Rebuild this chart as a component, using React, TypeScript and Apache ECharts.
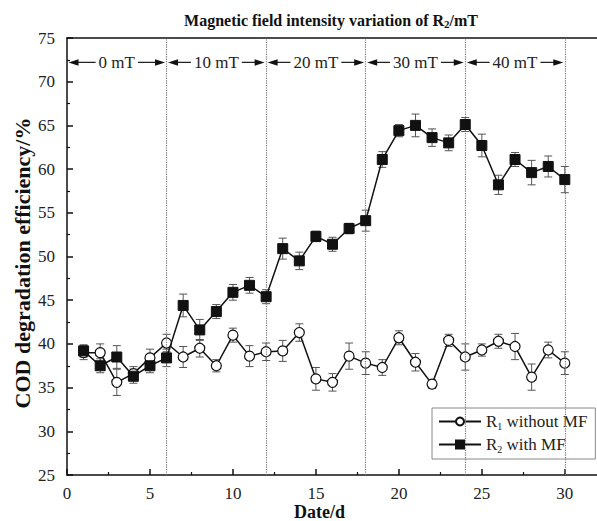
import { useEffect, useRef } from "react";
import * as echarts from "echarts";

const days = [1, 2, 3, 4, 5, 6, 7, 8, 9, 10, 11, 12, 13, 14, 15, 16, 17, 18, 19, 20, 21, 22, 23, 24, 25, 26, 27, 28, 29, 30];
const r1Values = [39.0, 39.0, 35.6, 36.6, 38.4, 40.1, 38.5, 39.5, 37.5, 41.0, 38.6, 39.1, 39.2, 41.3, 36.0, 35.6, 38.6, 37.8, 37.3, 40.7, 37.9, 35.4, 40.4, 38.5, 39.3, 40.3, 39.7, 36.2, 39.3, 37.8];
const r1Errors = [0.8, 1.0, 1.5, 0.8, 1.0, 1.0, 1.2, 1.0, 0.7, 0.8, 1.2, 1.0, 1.2, 1.0, 1.3, 1.0, 1.5, 1.3, 0.9, 0.8, 1.0, 0.5, 0.7, 1.5, 0.7, 0.8, 1.5, 1.5, 0.9, 1.3];
const r2Values = [39.2, 37.5, 38.5, 36.3, 37.5, 38.4, 44.4, 41.6, 43.7, 45.9, 46.7, 45.4, 50.9, 49.5, 52.3, 51.4, 53.2, 54.1, 61.1, 64.4, 65.0, 63.6, 63.0, 65.1, 62.7, 58.2, 61.1, 59.6, 60.3, 58.8];
const r2Errors = [0.7, 0.8, 1.3, 0.8, 0.8, 1.0, 1.3, 1.2, 0.8, 0.9, 0.9, 0.8, 1.2, 1.0, 0.6, 0.8, 0.6, 1.2, 0.9, 0.7, 1.3, 1.0, 0.9, 0.8, 1.3, 1.1, 0.8, 1.4, 1.2, 1.5];
const phaseBounds = [0, 6, 12, 18, 24, 30];
const phaseLabels = ["0 mT", "10 mT", "20 mT", "30 mT", "40 mT"];
const phaseY = 72.2;
const seriesNames = ["R1 without MF", "R2 with MF"];
const yAxisTitle = "COD degradation efficiency/%";
const xAxisTitle = "Date/d";

const FONT = "Liberation Serif";

function errorSeries(id: string, values: number[], errors: number[]) {
  return {
    type: "custom",
    id,
    silent: true,
    z: 1,
    data: days.map((d, i) => [d, values[i] - errors[i], values[i] + errors[i]]),
    encode: { x: 0, y: [1, 2] },
    renderItem: (params: any, api: any) => {
      const x = api.value(0);
      const lo = api.coord([x, api.value(1)]);
      const hi = api.coord([x, api.value(2)]);
      const hw = 4;
      const st = { stroke: "#555", lineWidth: 1 };
      return {
        type: "group",
        children: [
          { type: "line", shape: { x1: lo[0], y1: lo[1], x2: hi[0], y2: hi[1] }, style: st },
          { type: "line", shape: { x1: lo[0] - hw, y1: lo[1], x2: lo[0] + hw, y2: lo[1] }, style: st },
          { type: "line", shape: { x1: hi[0] - hw, y1: hi[1], x2: hi[0] + hw, y2: hi[1] }, style: st },
        ],
      };
    },
  };
}

export default function App() {
  const ref = useRef<HTMLDivElement>(null);
  useEffect(() => {
    if (!ref.current) return;
    const chart = echarts.init(ref.current, null, { renderer: "svg" });
    const option: any = {
      animation: false,
      backgroundColor: "#fff",
      textStyle: { fontFamily: FONT },
      graphic: [
        {
          type: "text",
          x: 331,
          y: 20,
          style: {
            text: "{a|Magnetic field intensity variation of R}{s|2}{a|/mT}",
            align: "center",
            verticalAlign: "middle",
            rich: {
              a: { fontFamily: FONT, fontSize: 16, fontWeight: "bold", fill: "#111", lineHeight: 18 },
              s: { fontFamily: FONT, fontSize: 11, fontWeight: "bold", fill: "#111", verticalAlign: "bottom", lineHeight: 11 },
            },
          },
        },
        {
          type: "text",
          x: 22,
          y: 263,
          rotation: Math.PI / 2,
          style: {
            text: yAxisTitle,
            fontFamily: FONT,
            fontSize: 22,
            fontWeight: "bold",
            fill: "#111",
            align: "center",
            verticalAlign: "middle",
          },
        },
      ],
      grid: { left: 67, top: 38, width: 531, height: 437, outerBoundsMode: "none", containLabel: false },
      legend: {
        data: seriesNames,
        orient: "vertical",
        left: 432,
        top: 408,
        backgroundColor: "#fff",
        borderColor: "#888",
        borderWidth: 1,
        borderRadius: 0,
        padding: [5, 8, 5, 6],
        itemGap: 5,
        itemWidth: 42,
        itemHeight: 10,
        formatter: (name: string) =>
          name === seriesNames[0] ? "{a|R}{s|1}{a| without MF}" : "{a|R}{s|2}{a| with MF}",
        textStyle: {
          fontFamily: FONT,
          fontSize: 17,
          color: "#222",
          rich: {
            a: { fontFamily: FONT, fontSize: 17, color: "#222", lineHeight: 19 },
            s: { fontFamily: FONT, fontSize: 10, color: "#222", verticalAlign: "bottom", lineHeight: 10 },
          },
        },
      },
      xAxis: [
        {
          type: "value",
          min: 0,
          max: 32,
          interval: 5,
          name: xAxisTitle,
          nameLocation: "middle",
          nameGap: 28,
          nameMoveOverlap: false,
          nameTextStyle: { fontFamily: FONT, fontSize: 18, fontWeight: "bold", color: "#111", padding: [0, 26, 0, 0] },
          axisLine: { show: true, lineStyle: { color: "#111", width: 1.5 } },
          axisTick: { show: true, inside: true, length: 6, lineStyle: { color: "#111", width: 1.5 } },
          minorTick: { show: true, splitNumber: 2, length: 3, lineStyle: { color: "#111", width: 1.2 } },
          axisLabel: {
            fontFamily: FONT,
            fontSize: 17,
            lineHeight: 17,
            color: "#222",
            margin: 10,
            formatter: (v: number) => (v % 5 === 0 ? String(v) : ""),
          },
          splitLine: { show: false },
        },
        {
          type: "value",
          position: "top",
          min: 0,
          max: 32,
          axisLine: { show: true, onZero: false, lineStyle: { color: "#111", width: 1.5 } },
          axisTick: { show: false },
          axisLabel: { show: false },
          splitLine: { show: false },
        },
      ],
      yAxis: [
        {
          type: "value",
          min: 25,
          max: 75,
          interval: 5,
          axisLine: { show: true, onZero: false, lineStyle: { color: "#111", width: 1.5 } },
          axisTick: { show: true, inside: true, length: 6, lineStyle: { color: "#111", width: 1.5 } },
          minorTick: { show: true, splitNumber: 2, length: 3, lineStyle: { color: "#111", width: 1.2 } },
          axisLabel: { fontFamily: FONT, fontSize: 17, color: "#222", margin: 12 },
          splitLine: { show: false },
        },
        {
          type: "value",
          position: "right",
          min: 25,
          max: 75,
          axisLine: { show: true, onZero: false, lineStyle: { color: "#111", width: 1.5 } },
          axisTick: { show: false },
          axisLabel: { show: false },
          splitLine: { show: false },
        },
      ],
      series: [
        errorSeries("r1err", r1Values, r1Errors),
        errorSeries("r2err", r2Values, r2Errors),
        {
          type: "custom",
          id: "phases",
          silent: true,
          z: 3,
          data: phaseLabels.map((l, i) => [phaseBounds[i], phaseBounds[i + 1], phaseY]),
          encode: { x: [0, 1], y: 2 },
          renderItem: (params: any, api: any) => {
            const i = params.dataIndex;
            const p0 = api.coord([api.value(0), api.value(2)]);
            const p1 = api.coord([api.value(1), api.value(2)]);
            const a0 = p0[0] + 1.5;
            const a1 = p1[0] - 1.5;
            const y = p0[1];
            const al = 10;
            const aw = 3.2;
            const mid = (a0 + a1) / 2;
            return {
              type: "group",
              children: [
                { type: "line", shape: { x1: a0 + al - 1, y1: y, x2: a1 - al + 1, y2: y }, style: { stroke: "#222", lineWidth: 1.2 } },
                { type: "polygon", shape: { points: [[a0, y], [a0 + al, y - aw], [a0 + al, y + aw]] }, style: { fill: "#111" } },
                { type: "polygon", shape: { points: [[a1, y], [a1 - al, y - aw], [a1 - al, y + aw]] }, style: { fill: "#111" } },
                {
                  type: "text",
                  x: mid,
                  y: y,
                  style: {
                    text: phaseLabels[i],
                    fontFamily: FONT,
                    fontSize: 17,
                    fill: "#222",
                    align: "center",
                    verticalAlign: "middle",
                    backgroundColor: "#fff",
                    padding: [0, 3, 0, 3],
                  },
                },
              ],
            };
          },
        },
        {
          type: "line",
          name: seriesNames[0],
          data: days.map((d, i) => [d, r1Values[i]]),
          symbol: "circle",
          symbolSize: 10,
          z: 4,
          lineStyle: { color: "#111", width: 1.5 },
          itemStyle: { color: "#fff", borderColor: "#111", borderWidth: 1.2 },
        },
        {
          type: "line",
          name: seriesNames[1],
          data: days.map((d, i) => [d, r2Values[i]]),
          symbol: "rect",
          symbolSize: 10,
          z: 5,
          lineStyle: { color: "#111", width: 1.5 },
          itemStyle: { color: "#111", borderColor: "#111", borderWidth: 1 },
          markLine: {
            silent: true,
            symbol: "none",
            label: { show: false },
            lineStyle: { color: "#777", type: "dotted", width: 1.2 },
            data: phaseBounds.slice(1).map((b) => ({ xAxis: b })),
          },
        },
      ],
    };
    chart.setOption(option);
    return () => chart.dispose();
  }, []);
  return <div ref={ref} style={{ position: "fixed", left: 0, top: 0, width: 597, height: 521 }} />;
}
